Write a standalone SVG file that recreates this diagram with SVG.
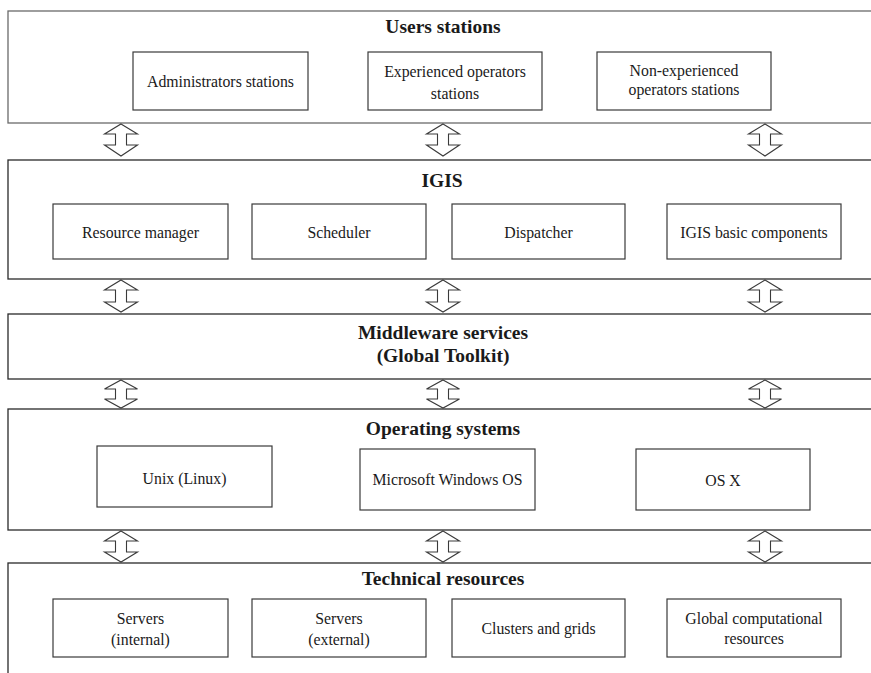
<svg xmlns="http://www.w3.org/2000/svg" width="871" height="673" viewBox="0 0 871 673">
  <style>
    .layer { fill: #fff; stroke: #2a2a2a; stroke-width: 1.3; }
    .layer.soft { stroke: #6a6a6a; }
    .box { fill: #fff; stroke: #3a3a3a; stroke-width: 1.2; }
    .title { font-family: "Liberation Serif", "Times New Roman", serif; font-weight: bold; font-size: 19.5px; fill: #1a1a1a; text-anchor: middle; }
    .label { font-family: "Liberation Serif", "Times New Roman", serif; font-size: 15.8px; fill: #1a1a1a; text-anchor: middle; }
    .arrow { fill: #fff; stroke: #3a3a3a; stroke-width: 1.1; stroke-linejoin: miter; }
  </style>
  <rect width="871" height="673" fill="#fff"/>

  <!-- Layer 1: user stations -->
  <g id="users-stations">
    <rect class="layer soft" x="8" y="11" width="880" height="112"/>
    <text class="title" x="443" y="33">Users stations</text>
  </g>
  <g id="administrators-stations">
    <rect class="box" x="133" y="52" width="175" height="58"/>
    <text class="label" x="220.5" y="87">Administrators stations</text>
  </g>
  <g id="experienced-operators-stations">
    <rect class="box" x="368" y="52" width="174" height="58"/>
    <text class="label" x="455" y="77">Experienced operators</text>
    <text class="label" x="455" y="99">stations</text>
  </g>
  <g id="non-experienced-operators-stations">
    <rect class="box" x="597" y="52" width="174" height="58"/>
    <text class="label" x="684" y="76">Non-experienced</text>
    <text class="label" x="684" y="95">operators stations</text>
  </g>

  <!-- Layer 2: IGIS -->
  <g id="igis">
    <rect class="layer" x="8" y="160" width="880" height="119"/>
    <text class="title" x="442" y="187">IGIS</text>
  </g>
  <g id="resource-manager">
    <rect class="box" x="53" y="204" width="175" height="55"/>
    <text class="label" x="140.5" y="238">Resource manager</text>
  </g>
  <g id="scheduler">
    <rect class="box" x="252" y="204" width="174" height="55"/>
    <text class="label" x="339" y="238">Scheduler</text>
  </g>
  <g id="dispatcher">
    <rect class="box" x="452" y="204" width="173" height="55"/>
    <text class="label" x="538.5" y="238">Dispatcher</text>
  </g>
  <g id="igis-basic-components">
    <rect class="box" x="667" y="204" width="174" height="55"/>
    <text class="label" x="754" y="238">IGIS basic components</text>
  </g>

  <!-- Layer 3: middleware -->
  <g id="middleware-services">
    <rect class="layer" x="8" y="314" width="880" height="65"/>
    <text class="title" x="443" y="339">Middleware services</text>
    <text class="title" x="443" y="362">(Global Toolkit)</text>
  </g>

  <!-- Layer 4: operating systems -->
  <g id="operating-systems">
    <rect class="layer" x="8" y="409" width="880" height="121"/>
    <text class="title" x="443" y="435">Operating systems</text>
  </g>
  <g id="unix-linux">
    <rect class="box" x="97" y="446" width="175" height="61"/>
    <text class="label" x="184.5" y="484">Unix (Linux)</text>
  </g>
  <g id="microsoft-windows-os">
    <rect class="box" x="360" y="449" width="175" height="61"/>
    <text class="label" x="447.5" y="485">Microsoft Windows OS</text>
  </g>
  <g id="os-x">
    <rect class="box" x="636" y="449" width="174" height="61"/>
    <text class="label" x="723" y="486">OS X</text>
  </g>

  <!-- Layer 5: technical resources -->
  <g id="technical-resources">
    <rect class="layer" x="8" y="563" width="880" height="130"/>
    <text class="title" x="443" y="585">Technical resources</text>
  </g>
  <g id="servers-internal">
    <rect class="box" x="53" y="599" width="175" height="58"/>
    <text class="label" x="140.5" y="624">Servers</text>
    <text class="label" x="140.5" y="645">(internal)</text>
  </g>
  <g id="servers-external">
    <rect class="box" x="252" y="599" width="174" height="58"/>
    <text class="label" x="339" y="624">Servers</text>
    <text class="label" x="339" y="645">(external)</text>
  </g>
  <g id="clusters-and-grids">
    <rect class="box" x="452" y="599" width="173" height="58"/>
    <text class="label" x="538.5" y="634">Clusters and grids</text>
  </g>
  <g id="global-computational-resources">
    <rect class="box" x="667" y="599" width="174" height="58"/>
    <text class="label" x="754" y="624">Global computational</text>
    <text class="label" x="754" y="644">resources</text>
  </g>

  <!-- Double-headed block arrows between adjacent layers -->
  <g id="connectors">
    <!-- users stations <-> IGIS -->
    <path class="arrow" d="M121,124 L137.5,134 L126.5,134 L126.5,145 L137.5,145 L121,156 L104.5,145 L115.5,145 L115.5,134 L104.5,134 Z"/>
    <path class="arrow" d="M443,124 L459.5,134 L448.5,134 L448.5,145 L459.5,145 L443,156 L426.5,145 L437.5,145 L437.5,134 L426.5,134 Z"/>
    <path class="arrow" d="M765,124 L781.5,134 L770.5,134 L770.5,145 L781.5,145 L765,156 L748.5,145 L759.5,145 L759.5,134 L748.5,134 Z"/>
    <!-- IGIS <-> middleware -->
    <path class="arrow" d="M121,280 L137.5,290 L126.5,290 L126.5,302 L137.5,302 L121,312 L104.5,302 L115.5,302 L115.5,290 L104.5,290 Z"/>
    <path class="arrow" d="M443,280 L459.5,290 L448.5,290 L448.5,302 L459.5,302 L443,312 L426.5,302 L437.5,302 L437.5,290 L426.5,290 Z"/>
    <path class="arrow" d="M765,280 L781.5,290 L770.5,290 L770.5,302 L781.5,302 L765,312 L748.5,302 L759.5,302 L759.5,290 L748.5,290 Z"/>
    <!-- middleware <-> operating systems -->
    <path class="arrow" d="M121,380 L137.5,389 L126.5,389 L126.5,399 L137.5,399 L121,408 L104.5,399 L115.5,399 L115.5,389 L104.5,389 Z"/>
    <path class="arrow" d="M443,380 L459.5,389 L448.5,389 L448.5,399 L459.5,399 L443,408 L426.5,399 L437.5,399 L437.5,389 L426.5,389 Z"/>
    <path class="arrow" d="M765,380 L781.5,389 L770.5,389 L770.5,399 L781.5,399 L765,408 L748.5,399 L759.5,399 L759.5,389 L748.5,389 Z"/>
    <!-- operating systems <-> technical resources -->
    <path class="arrow" d="M121,531 L137.5,541 L126.5,541 L126.5,552 L137.5,552 L121,562 L104.5,552 L115.5,552 L115.5,541 L104.5,541 Z"/>
    <path class="arrow" d="M443,531 L459.5,541 L448.5,541 L448.5,552 L459.5,552 L443,562 L426.5,552 L437.5,552 L437.5,541 L426.5,541 Z"/>
    <path class="arrow" d="M765,531 L781.5,541 L770.5,541 L770.5,552 L781.5,552 L765,562 L748.5,552 L759.5,552 L759.5,541 L748.5,541 Z"/>
  </g>
</svg>
